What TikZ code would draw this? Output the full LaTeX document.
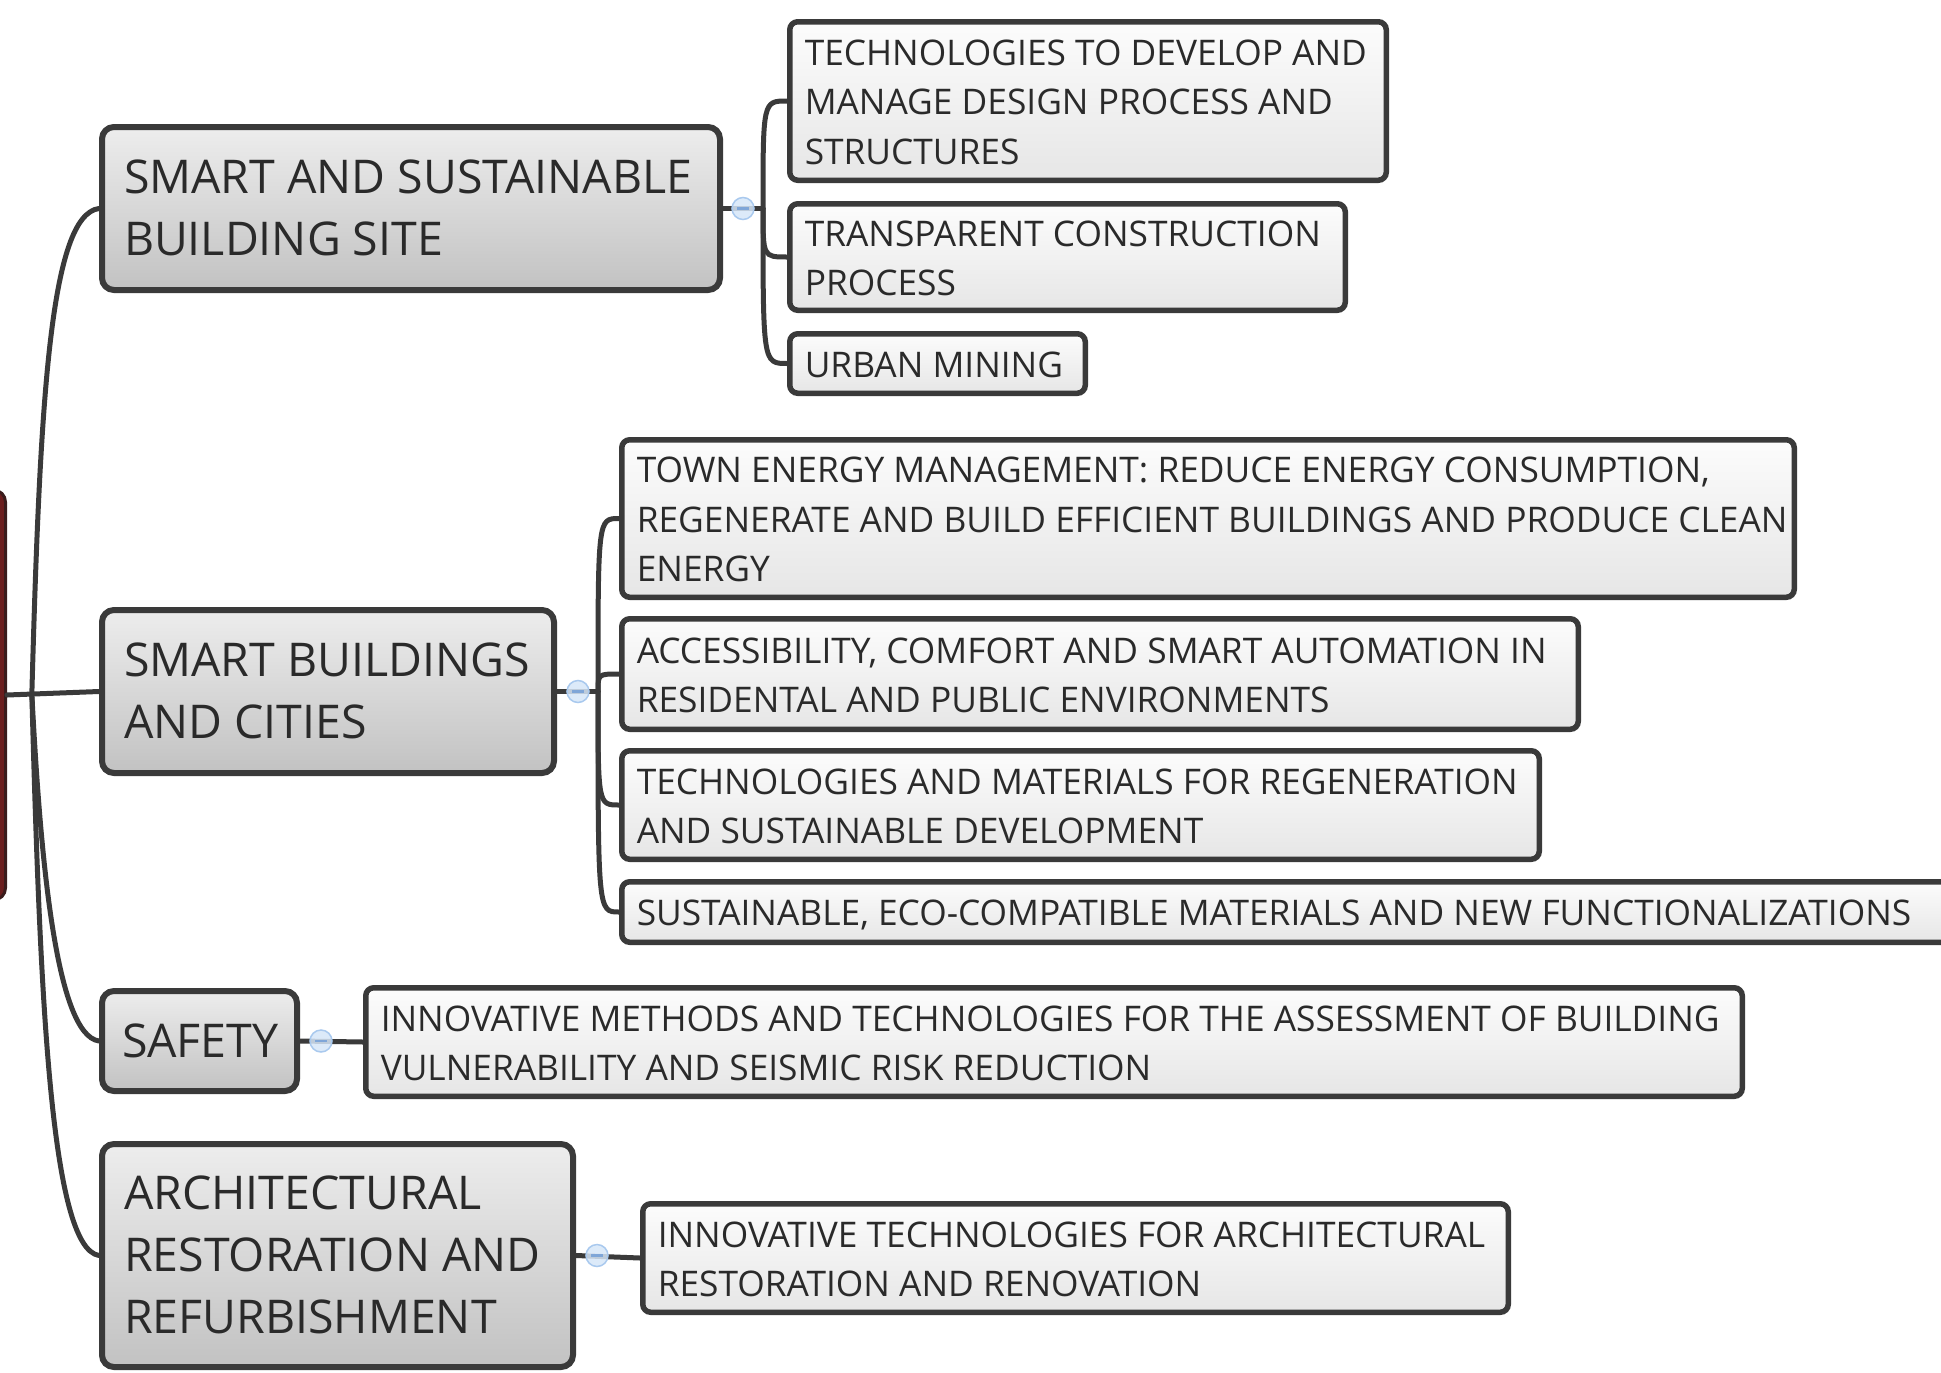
\documentclass[tikz,border=0pt]{standalone}
\usepackage{fontspec}
\setmainfont{Open Sans}
\usetikzlibrary{calc}
\definecolor{linec}{HTML}{3A3A3A}
\definecolor{mtop}{HTML}{EDEDED}
\definecolor{mbot}{HTML}{C2C2C2}
\definecolor{stop}{HTML}{FCFCFC}
\definecolor{sbot}{HTML}{E6E6E6}
\definecolor{txtc}{HTML}{2A2A2A}
\definecolor{rootfill}{HTML}{6B1E1E}
\definecolor{rootline}{HTML}{3A1C1C}
\definecolor{cfill}{HTML}{D6E6F8}
\definecolor{cline}{HTML}{A9C9EE}
\definecolor{cminus}{HTML}{7FA6D8}
\newcommand\mnodefont{\fontsize{46.5}{62}\selectfont}
\newcommand\snodefont{\fontsize{35.3}{49.5}\selectfont}
\newcommand\boxlines[2]{\raisebox{-4pt}[\height][\depth]{\makebox[#1][l]{\begin{tabular}{@{}l@{}}#2\end{tabular}}}}
\begin{document}
\begin{tikzpicture}[x=1pt,y=-1pt,
  mainbox/.style={draw=linec, line width=6pt, rounded corners=12pt, top color=mtop, bottom color=mbot, text=txtc, font=\mnodefont, inner xsep=22pt, inner ysep=0pt},
  subbox/.style={draw=linec, line width=5.5pt, rounded corners=8pt, top color=stop, bottom color=sbot, text=txtc, font=\snodefont, inner xsep=15pt, inner ysep=0pt},
  conn/.style={draw=linec, line width=5pt, line cap=round},
  collapse/.style={circle, draw=cline, fill=cfill, fill opacity=0.85, text opacity=1, text=cminus, line width=1.5pt, minimum size=22pt, inner sep=0pt},
  rootbox/.style={draw=rootline, fill=rootfill, line width=3pt, rounded corners=12pt}]
\useasboundingbox (0,0) rectangle (1941,1373);
\clip (0,0) rectangle (1941,1373);

% root (only its right edge is visible)
\node[rootbox, minimum width=51pt, minimum height=410pt] (root) at (-20,695) {};

% main topics
\node[mainbox, minimum width=618pt, minimum height=163pt] (M1) at (411,208.5) {\boxlines{574pt}{SMART AND SUSTAINABLE\\BUILDING SITE}};
\node[mainbox, minimum width=452pt, minimum height=163pt] (M2) at (328,691.5) {\boxlines{408pt}{SMART BUILDINGS\\AND CITIES}};
\node[mainbox, inner xsep=20pt, minimum width=195pt, minimum height=100pt] (M3) at (199.5,1041) {\boxlines{155pt}{SAFETY}};
\node[mainbox, minimum width=471pt, minimum height=223pt] (M4) at (337.5,1255.5) {\boxlines{427pt}{ARCHITECTURAL\\RESTORATION AND\\REFURBISHMENT}};

% sub topics
\node[subbox, minimum width=596.5pt, minimum height=158.5pt] (S1a) at (1088,101) {\boxlines{566.5pt}{TECHNOLOGIES TO DEVELOP AND\\MANAGE DESIGN PROCESS AND\\STRUCTURES}};
\node[subbox, minimum width=555.5pt, minimum height=106.5pt] (S1b) at (1067.5,257) {\boxlines{525.5pt}{TRANSPARENT CONSTRUCTION\\PROCESS}};
\node[subbox, minimum width=295.5pt, minimum height=59.5pt] (S1c) at (937.5,363.5) {\boxlines{265.5pt}{URBAN MINING}};

\node[subbox, minimum width=1172.5pt, minimum height=157.5pt] (S2a) at (1208,518.5) {\boxlines{1142.5pt}{TOWN ENERGY MANAGEMENT: REDUCE ENERGY CONSUMPTION,\\REGENERATE AND BUILD EFFICIENT BUILDINGS AND PRODUCE CLEAN\\ENERGY}};
\node[subbox, minimum width=956.5pt, minimum height=110.5pt] (S2b) at (1100,674) {\boxlines{926.5pt}{ACCESSIBILITY, COMFORT AND SMART AUTOMATION IN\\RESIDENTAL AND PUBLIC ENVIRONMENTS}};
\node[subbox, minimum width=917.5pt, minimum height=108.5pt] (S2c) at (1080.5,805) {\boxlines{887.5pt}{TECHNOLOGIES AND MATERIALS FOR REGENERATION\\AND SUSTAINABLE DEVELOPMENT}};
\node[subbox, minimum width=1335.5pt, minimum height=60.5pt] (S2d) at (1289.5,912) {\boxlines{1305.5pt}{SUSTAINABLE, ECO-COMPATIBLE MATERIALS AND NEW FUNCTIONALIZATIONS}};

\node[subbox, minimum width=1376.5pt, minimum height=108.5pt] (S3) at (1054,1042) {\boxlines{1346.5pt}{INNOVATIVE METHODS AND TECHNOLOGIES FOR THE ASSESSMENT OF BUILDING\\VULNERABILITY AND SEISMIC RISK REDUCTION}};

\node[subbox, minimum width=865.5pt, minimum height=108.5pt] (S4) at (1075.5,1258) {\boxlines{835.5pt}{INNOVATIVE TECHNOLOGIES FOR ARCHITECTURAL\\RESTORATION AND RENOVATION}};

% trunk connectors
\coordinate (fork) at ($(root.east)!0.27!(M2.west)$);
\draw[conn] (root.east) -- (M2.west);
\draw[conn] (fork) .. controls (40,400) and (50,215) .. (M1.west);
\draw[conn] (fork) .. controls (40,850) and (55,1035) .. (M3.west);
\draw[conn] (fork) .. controls (40,990) and (50,1248) .. (M4.west);

% branch connectors
\coordinate (J1) at ($(M1.east)+(40,0)$);
\draw[conn] (M1.east) -- (J1);
\foreach \t in {S1a,S1b,S1c}
  \draw[conn] (J1) .. controls (J1 |- \t.west) .. (\t.west);

\coordinate (J2) at ($(M2.east)+(41,0)$);
\draw[conn] (M2.east) -- (J2);
\foreach \t in {S2a,S2b,S2c,S2d}
  \draw[conn] (J2) .. controls (J2 |- \t.west) .. (\t.west);

\draw[conn] (M3.east) -- (S3.west);
\draw[conn] (M4.east) -- (S4.west);

% collapse markers
\node[collapse] (c1) at ($(M1.east)+(20,0)$) {\rule{12pt}{2.5pt}};
\node[collapse] (c2) at ($(M2.east)+(21,0)$) {\rule{12pt}{2.5pt}};
\node[collapse] (c3) at ($(M3.east)+(21,0)$) {\rule{12pt}{2.5pt}};
\node[collapse] (c4) at ($(M4.east)+(21,0)$) {\rule{12pt}{2.5pt}};
\end{tikzpicture}
\end{document}
